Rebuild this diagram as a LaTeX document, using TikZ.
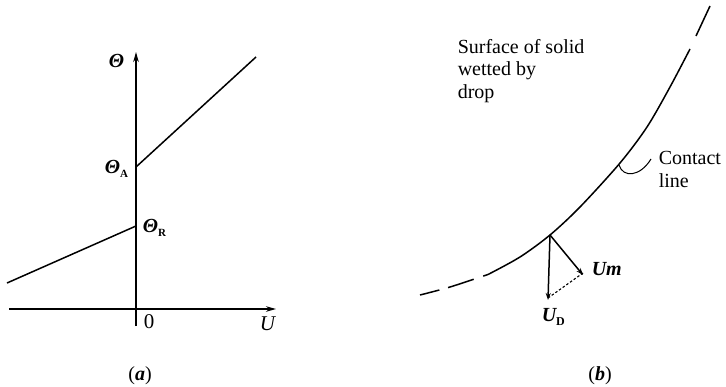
\documentclass[tikz,border=0pt]{standalone}
\usepackage{fontspec}
\setmainfont{Liberation Serif}
\usetikzlibrary{arrows.meta}
\begin{document}
\begin{tikzpicture}[x=1pt,y=-1pt, line width=1.5pt,
  axis/.style={-{Stealth[length=10pt,width=5.5pt]}},
  vec/.style={-{Stealth[length=7pt,width=5pt]}},
  lab/.style={inner sep=0pt, font=\fontsize{20}{22.5}\selectfont},
  sym/.style={inner sep=0pt, font=\fontsize{20}{22}\selectfont\bfseries\itshape}]
\useasboundingbox (0,0) rectangle (726,386);
% ---------- panel (a)
\coordinate (ob) at (136,326);
\coordinate (ot) at (136,52);
\coordinate (xl) at (9,309);
\coordinate (xr) at (276,309);
\coordinate (A) at (136,167);
\coordinate (Aend) at (256,57);
\coordinate (R) at (136,226);
\coordinate (Rend) at (7,283);
\draw[axis] (ob) -- (ot);
\draw[axis] (xl) -- (xr);
\draw (A) -- (Aend);
\draw (R) -- (Rend);
\node[sym, anchor=base west] (th) at (108,67) {Θ};
\node[sym, anchor=base west] (thA) at (104,173) {Θ\raisebox{-4pt}{\fontsize{11}{11}\selectfont\upshape A}};
\node[sym, anchor=base west] (thR) at (142,232) {Θ\raisebox{-4pt}{\fontsize{11}{11}\selectfont\upshape R}};
\node[lab, anchor=base west, font=\fontsize{21}{22}\selectfont] (zero) at (143,328) {0};
\node[lab, anchor=base west, font=\fontsize{21}{22}\selectfont\itshape] (uu) at (259,330) {U};
\node[lab, anchor=base] (capa) at (140,380) {(\textbf{\textit{a}})};
% ---------- panel (b)
\draw[dash pattern=on 20pt off 9pt on 27pt off 10pt] plot[smooth] coordinates {(420,295) (450,287) (488,274.5)};
\draw plot[smooth] coordinates {(488,274.5) (520,257) (550,235) (580,207) (620,163) (647,127) (670,87) (690,49)};
\draw plot[smooth] coordinates {(696,36) (703,21) (710,6)};
\coordinate (P) at (550,235);
\coordinate (UD) at (548,300);
\coordinate (Um) at (583,275);
\coordinate (C) at (619,165);
\coordinate (Cend) at (651,159);
\draw[vec] (P) -- (UD);
\draw[vec] (P) -- (Um);
\draw[dash pattern=on 2.5pt off 2pt, line width=1.1pt] ([yshift=2pt]Um) -- ([yshift=2pt]UD);
\draw[line width=1pt] (C) .. controls (623,178) and (640,177) .. (Cend);
\node[sym, anchor=base west] (um) at (591,275) {Um};
\node[sym, anchor=base west] (ud) at (541,321) {U\raisebox{-4pt}{\fontsize{12}{12}\selectfont\upshape D}};
\node[lab, anchor=base west, align=left] (surf) at (457,98) {Surface of solid\\wetted by\\drop};
\node[lab, anchor=base west, align=left] (cl) at (658,187) {Contact\\line};
\node[lab, anchor=base] (capb) at (600,380) {(\textbf{\textit{b}})};
\end{tikzpicture}
\end{document}
